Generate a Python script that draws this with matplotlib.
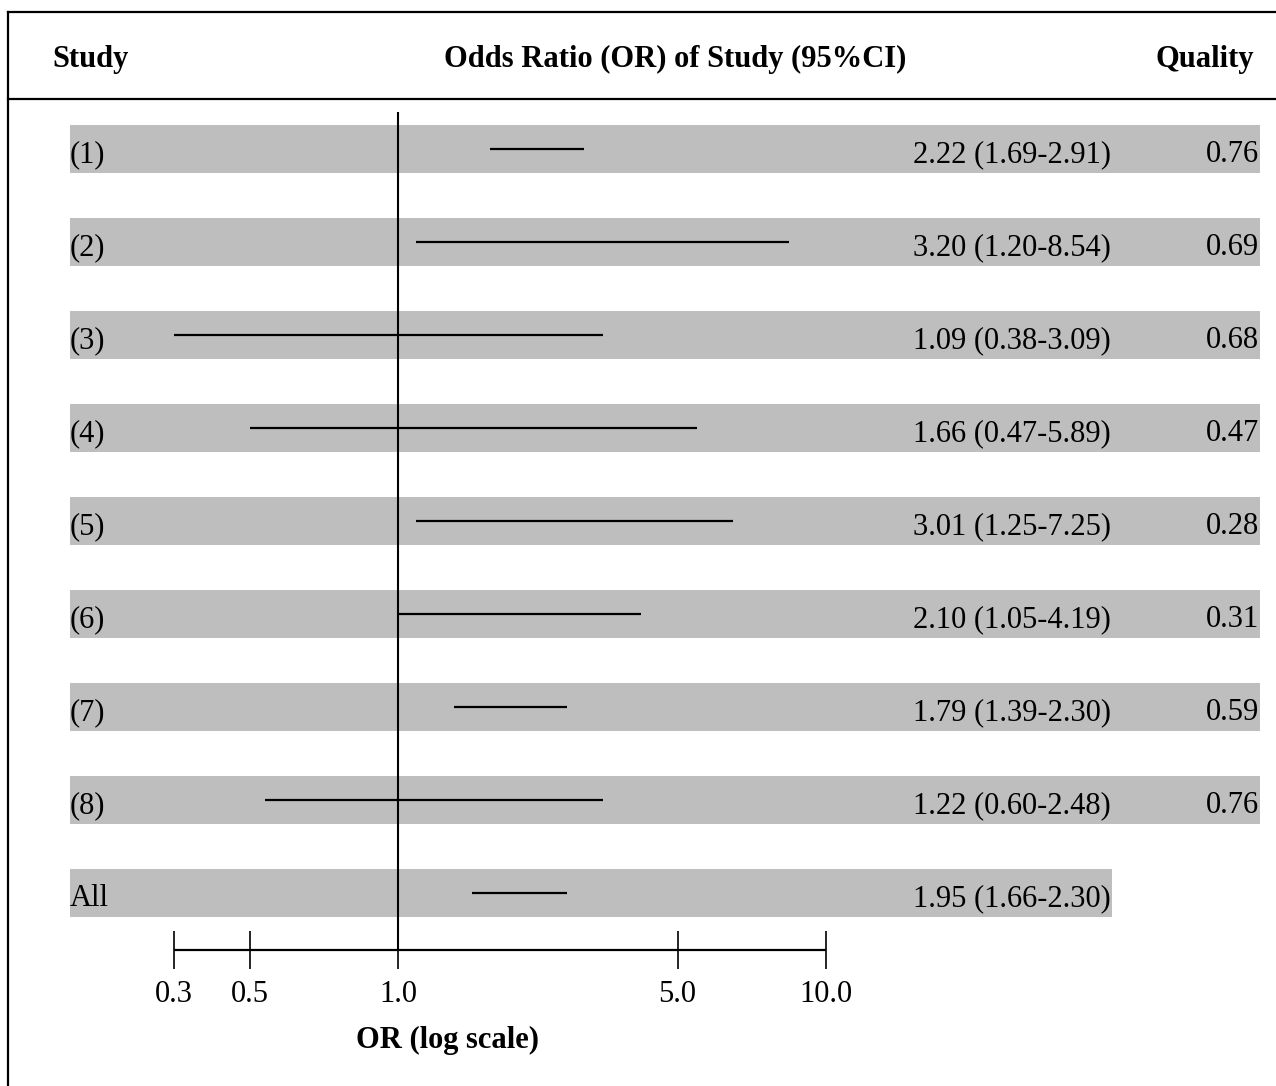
import matplotlib
matplotlib.use("Agg")
import matplotlib.pyplot as plt
from matplotlib.lines import Line2D
import matplotlib.transforms as mtransforms

plt.rcParams['font.family'] = ['Liberation Serif', 'DejaVu Serif']

# ---- data ----
studies = ['(1)', '(2)', '(3)', '(4)', '(5)', '(6)', '(7)', '(8)', 'All']
or_est = [2.22, 3.20, 1.09, 1.66, 3.01, 2.10, 1.79, 1.22, 1.95]
ci_low = [1.69, 1.20, 0.38, 0.47, 1.25, 1.05, 1.39, 0.60, 1.66]
ci_high = [2.91, 8.54, 3.09, 5.89, 7.25, 4.19, 2.30, 2.48, 2.30]
quality = [0.76, 0.69, 0.68, 0.47, 0.28, 0.31, 0.59, 0.76, None]
# interval ends as they are drawn in the figure
line_low = [1.64, 1.10, 0.30, 0.45, 1.10, 1.00, 1.35, 0.49, 1.49]
line_high = [2.72, 8.20, 3.01, 5.00, 6.06, 3.70, 2.48, 3.01, 2.48]
# tick marks where the figure puts them, with the labels it prints
tick_pos = [0.3, 0.45, 1.0, 4.5, 10.0]
tick_labels = ['0.3', '0.5', '1.0', '5.0', '10.0']

W, H = 1276, 1086
fig = plt.figure(figsize=(W / 100, H / 100), dpi=100)
ax = fig.add_axes([0, 0, 1, 1])
ax.set_xscale('log')
# 1.0 sits at x=398 px, one decade is 428 px
ax.set_xlim(10 ** (-398 / 428), 10 ** ((W - 398) / 428))
row0, step = 149, 93.0
ax.set_ylim((H - row0) / step, -row0 / step)
ax.axis('off')

fs = 22
gray = '#bebebe'
blend = mtransforms.blended_transform_factory(ax.transAxes, ax.transData)
n = len(studies)
for i in range(n):
    right = 1260 if quality[i] is not None else 1112
    ax.axhspan(i - 0.253, i + 0.253, xmin=70 / W, xmax=right / W,
               color=gray, lw=0, zorder=0)
    ax.hlines(i, line_low[i], line_high[i], color='black', lw=1.6, zorder=2)
    ax.text(70 / W, i + 0.06, studies[i], transform=blend, fontsize=fs,
            ha='left', va='center')
    ax.text(913 / W, i + 0.06, f'{or_est[i]:.2f} ({ci_low[i]:.2f}-{ci_high[i]:.2f})',
            transform=blend, fontsize=fs, ha='left', va='center')
    if quality[i] is not None:
        ax.text(1259 / W, i + 0.06, f'{quality[i]:.2f}', transform=blend,
                fontsize=fs, ha='right', va='center')

# reference line and axis
y_axis = (950 - row0) / step
y_top = (112 - row0) / step
ax.vlines(1.0, y_top, y_axis, color='black', lw=1.5, zorder=3)
ax.hlines(y_axis, tick_pos[0], tick_pos[-1], color='black', lw=1.6)
tk = 19 / step
for t, lab in zip(tick_pos, tick_labels):
    ax.vlines(t, y_axis - tk, y_axis + tk, color='black', lw=1.2)
    ax.text(t, y_axis + 45 / step, lab, fontsize=fs, ha='center', va='center')
ax.text(448 / W, y_axis + 90 / step, 'OR (log scale)', transform=blend,
        fontsize=fs, fontweight='bold', ha='center', va='center')

# header
hy = 1 - 59 / H
fig.text(52 / W, hy, 'Study', fontsize=fs, fontweight='bold', ha='left', va='center')
fig.text(675 / W, hy, 'Odds Ratio (OR) of Study (95%CI)', fontsize=fs,
         fontweight='bold', ha='center', va='center')
fig.text(1254 / W, hy, 'Quality', fontsize=fs, fontweight='bold', ha='right', va='center')

# frame
lw = 1.6
fig.add_artist(Line2D([7.5 / W, 1], [1 - 12 / H, 1 - 12 / H], color='black', lw=lw))
fig.add_artist(Line2D([7.5 / W, 1], [1 - 99 / H, 1 - 99 / H], color='black', lw=lw))
fig.add_artist(Line2D([7.5 / W, 7.5 / W], [1 - 12 / H, 0], color='black', lw=lw))

fig.savefig('out.png', dpi=100)
